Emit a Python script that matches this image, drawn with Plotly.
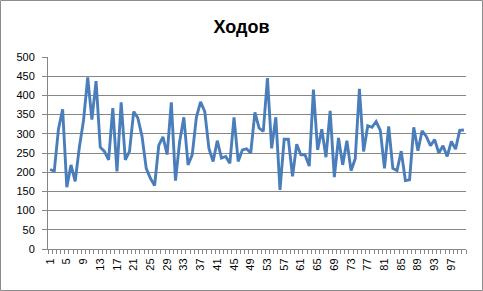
import plotly.graph_objects as go

moves = [207, 203, 312, 364, 161, 219, 176, 265, 335, 447,
         337, 437, 265, 254, 232, 367, 202, 382, 232, 254,
         358, 341, 293, 210, 184, 165, 270, 292, 246, 382,
         178, 280, 343, 219, 245, 343, 383, 358, 262, 228,
         282, 237, 241, 223, 343, 228, 258, 261, 250, 356,
         315, 306, 445, 262, 343, 154, 286, 286, 189, 273,
         245, 245, 216, 415, 258, 312, 239, 360, 187, 289,
         219, 282, 204, 235, 417, 254, 321, 317, 332, 309,
         210, 319, 210, 204, 255, 178, 180, 317, 256, 308,
         293, 269, 285, 250, 269, 241, 280, 260, 309, 310]
games = list(range(1, len(moves) + 1))
x_tick_vals = list(range(1, 100, 4))
x_tick_text = [str(v) for v in x_tick_vals]
y_tick_vals = list(range(0, 501, 50))
title_text = "Ходов"

GRID = "#868686"
FONT = "Liberation Sans, Arial, sans-serif"

fig = go.Figure()
fig.add_trace(go.Scatter(
    x=games, y=moves, mode="lines",
    line=dict(color="#4A7EBB", width=2.9),
    hoverinfo="skip",
))

W, H = 483, 291
L, R, T, B = 48, 17, 57, 42
pw, ph = W - L - R, H - T - B

fig.update_layout(
    width=W, height=H,
    margin=dict(l=L, r=R, t=T, b=B, pad=0),
    paper_bgcolor="white", plot_bgcolor="white",
    showlegend=False,
    font=dict(family=FONT, size=11, color="black"),
    title=dict(text="<b>" + title_text + "</b>", x=0.5, xanchor="center",
               y=1 - 27 / H, yanchor="middle",
               font=dict(family=FONT, size=18, color="black")),
    xaxis=dict(
        range=[0.5, len(moves) + 0.5],
        tickmode="array", tickvals=x_tick_vals, ticktext=x_tick_text,
        tickangle=-90, ticks="", showgrid=False, zeroline=False,
        showline=True, linecolor=GRID, linewidth=1,
        ticklabelstandoff=4,
        tickfont=dict(family=FONT, size=11, color="black"),
        minor=dict(tickmode="linear", tick0=0.5, dtick=1, ticks="outside",
                   ticklen=4, tickcolor=GRID, tickwidth=1, showgrid=False),
        fixedrange=True,
    ),
    yaxis=dict(
        range=[0, 500], tickmode="array", tickvals=y_tick_vals,
        ticks="outside", ticklen=5, tickcolor=GRID, tickwidth=1,
        ticklabelstandoff=5,
        showgrid=True, gridcolor=GRID, gridwidth=1, zeroline=False,
        showline=True, linecolor=GRID, linewidth=1,
        tickfont=dict(family=FONT, size=11, color="black"),
        fixedrange=True,
    ),
    shapes=[dict(
        type="rect", xref="paper", yref="paper",
        x0=(0.5 - L) / pw, x1=(W - 0.5 - L) / pw,
        y0=-(B - 0.5) / ph, y1=(H - B - 0.5) / ph,
        line=dict(color="#8c8c8c", width=1), fillcolor="rgba(0,0,0,0)",
        layer="below",
    )],
)

fig.write_html("out.html")
